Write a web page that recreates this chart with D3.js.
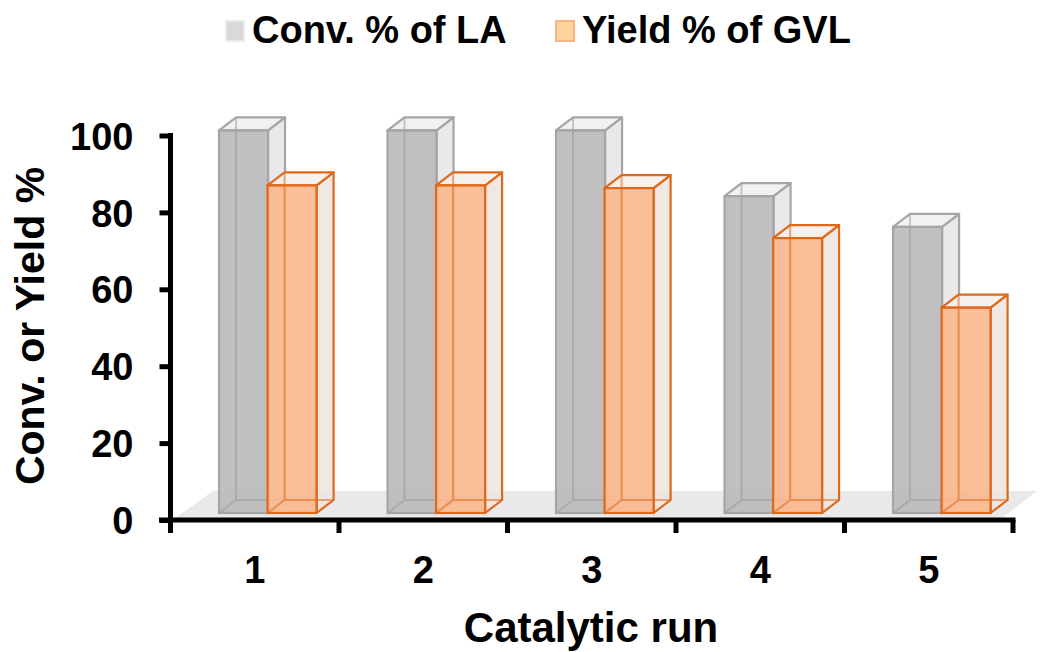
<!DOCTYPE html>
<html>
<head>
<meta charset="utf-8">
<script src="https://cdn.jsdelivr.net/npm/d3@7"></script>
<style>
  html, body { margin: 0; padding: 0; background: #ffffff; }
  svg text { font-family: "Liberation Sans", Arial, sans-serif; font-weight: bold; fill: #000; }
</style>
</head>
<body>
<svg id="chart" width="1041" height="652"></svg>
<script>
// Catalyst recycling: LA conversion and GVL yield per run
const categories = ["1", "2", "3", "4", "5"];
const convLA = [99.5, 99.5, 99.5, 82.4, 74.4];
const yieldGVL = [85.2, 85.2, 84.5, 71.5, 53.4];
const yTicks = [0, 20, 40, 60, 80, 100];
const seriesNames = ["Conv. % of LA", "Yield % of GVL"];

const svg = d3.select("#chart");

const x = d3.scaleBand().domain(categories).range([170.5, 1013]);
const y = d3.scaleLinear().domain([0, 100]).range([520, 135.5]);

// 3D depth offset and floor lift
const DX = 17, DY = -13, LIFT = 7;

const styles = [
  { front: "#b7b7b7", side: "#e5e5e5", top: "#efefef", stroke: "#a5a5a5", hidden: "#a0a0a0" },
  { front: "#f9b68a", side: "#f0e4de", top: "#f6eeea", stroke: "#de681b", hidden: "#de681b" }
];

// floor plane
const floorFront = 518, floorBack = 491;
svg.append("path")
  .attr("d", `M${175},${floorFront} L${1002},${floorFront} L${1037},${floorBack} L${213},${floorBack} Z`)
  .attr("fill", "#e9e9e9");

const series = [convLA, yieldGVL];
const offsets = [0.288, 0.576];
const widthFrac = 0.291;
const bw = x.bandwidth();

const bars = svg.append("g");
categories.forEach((c, i) => {
  series.forEach((vals, s) => {
    const st = styles[s];
    const x0 = x(c) + bw * offsets[s];
    const x1 = x0 + bw * widthFrac;
    const yb = y(0) - LIFT;
    const yt = y(vals[i]) - LIFT;
    const g = bars.append("g");
    // hidden back edges
    const hidden = `M${x0 + DX},${yt + DY} L${x0 + DX},${yb + DY} L${x1 + DX},${yb + DY} M${x0},${yb} L${x0 + DX},${yb + DY}`;
    g.append("path").attr("d", hidden).attr("fill", "none")
      .attr("stroke", st.hidden).attr("stroke-width", 2);
    // side face
    g.append("path")
      .attr("d", `M${x1},${yt} L${x1 + DX},${yt + DY} L${x1 + DX},${yb + DY} L${x1},${yb} Z`)
      .attr("fill", st.side).attr("fill-opacity", 0.85)
      .attr("stroke", st.stroke).attr("stroke-width", 2.2).attr("stroke-linejoin", "round");
    // top face
    g.append("path")
      .attr("d", `M${x0},${yt} L${x0 + DX},${yt + DY} L${x1 + DX},${yt + DY} L${x1},${yt} Z`)
      .attr("fill", st.top).attr("fill-opacity", 0.85)
      .attr("stroke", st.stroke).attr("stroke-width", 2.2).attr("stroke-linejoin", "round");
    // front face
    g.append("rect")
      .attr("x", x0).attr("y", yt).attr("width", x1 - x0).attr("height", yb - yt)
      .attr("fill", st.front).attr("fill-opacity", 0.88)
      .attr("stroke", st.stroke).attr("stroke-width", 2.2);
    // back edges seen through the front face
    g.append("path").attr("d", hidden).attr("fill", "none")
      .attr("stroke", st.hidden).attr("stroke-width", 2).attr("stroke-opacity", 0.45);
  });
});

// y axis
const yAxis = svg.append("g")
  .attr("transform", "translate(170.5,0)")
  .call(d3.axisLeft(y).tickValues(yTicks).tickSize(11).tickSizeOuter(0).tickPadding(26));
yAxis.select(".domain").attr("stroke", "#000").attr("stroke-width", 5)
  .attr("d", `M0,${y(100) - 2.5}V${y(0)}`);
yAxis.selectAll(".tick line").attr("stroke", "#000").attr("stroke-width", 5);
yAxis.selectAll(".tick text").style("font-size", "38px").attr("dy", "0.36em");

// x axis
const xAxis = svg.append("g")
  .attr("transform", `translate(0,${y(0)})`)
  .call(d3.axisBottom(x).tickSize(0).tickSizeOuter(0).tickPadding(36));
xAxis.select(".domain").attr("stroke", "#000").attr("stroke-width", 5)
  .attr("d", `M159,0H1015.5`);
xAxis.selectAll(".tick text").style("font-size", "38px");
// boundary ticks between runs
const bounds = categories.map(c => x(c)).concat([x.range()[1]]);
xAxis.selectAll(".bound").data(bounds).join("line")
  .attr("class", "bound")
  .attr("x1", d => d).attr("x2", d => d).attr("y1", 0).attr("y2", 13)
  .attr("stroke", "#000").attr("stroke-width", 5);

// axis titles
svg.append("text")
  .attr("transform", "translate(44,326) rotate(-90)")
  .attr("text-anchor", "middle")
  .style("font-size", "41px")
  .text("Conv. or Yield %");
svg.append("text")
  .attr("x", 591).attr("y", 642)
  .attr("text-anchor", "middle")
  .style("font-size", "42px")
  .text("Catalytic run");

// legend
const legend = svg.append("g");
const legendItems = [
  { x: 226, fill: "#d9d9d9", stroke: "#ebebeb" },
  { x: 556, fill: "#fdd49c", stroke: "#f7b585" }
];
legendItems.forEach((d, i) => {
  legend.append("rect")
    .attr("x", d.x).attr("y", 21).attr("width", 18).attr("height", 20)
    .attr("fill", d.fill).attr("stroke", d.stroke).attr("stroke-width", 2);
  legend.append("text")
    .attr("x", d.x + 26).attr("y", 43)
    .style("font-size", "38px")
    .text(seriesNames[i]);
});
</script>
</body>
</html>
